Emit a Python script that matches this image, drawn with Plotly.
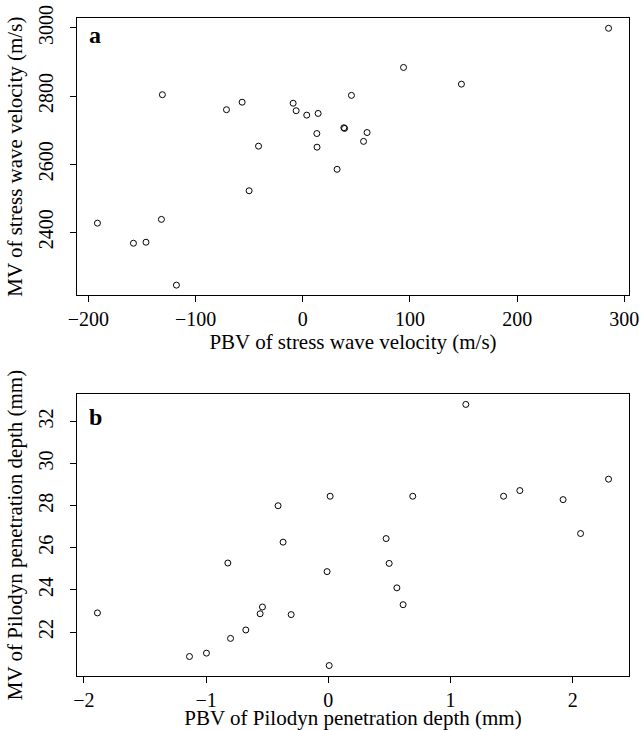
import plotly.graph_objects as go

# Panel a: stress wave velocity
pbv_swv = [-191.6, -158, -146.3, -131.9, -131, -117.9, -71.2, -56.6, -50.1, -41.3,
           -9.0, -6.2, 3.7, 13.1, 13.3, 14.3, 32, 38.3, 39, 45.4, 56.7, 60, 94, 148, 285.3]
mv_swv = [2427, 2368, 2371, 2438, 2804, 2245, 2760, 2782, 2522, 2653,
          2779, 2757, 2744, 2690, 2650, 2749, 2585, 2707, 2705, 2802, 2667, 2693, 2884, 2835, 2999]

# Panel b: Pilodyn penetration depth
pbv_pilo = [-1.889, -1.136, -0.997, -0.822, -0.800, -0.675, -0.558, -0.539, -0.411, -0.370,
            -0.304, -0.010, 0.007, 0.015, 0.473, 0.498, 0.561, 0.612, 0.691, 1.125,
            1.434, 1.567, 1.921, 2.064, 2.293]
mv_pilo = [22.91, 20.84, 21.0, 25.28, 21.70, 22.10, 22.87, 23.19, 28.0, 26.27,
           22.83, 24.87, 20.41, 28.45, 26.44, 25.26, 24.10, 23.30, 28.45, 32.81,
           28.45, 28.72, 28.29, 26.68, 29.26]

xticks_a = [-200, -100, 0, 100, 200, 300]
yticks_a = [2400, 2600, 2800, 3000]
xticks_b = [-2, -1, 0, 1, 2]
yticks_b = [22, 24, 26, 28, 30, 32]

FONT = "Liberation Serif, Times New Roman, serif"
TICK_SIZE = 20
TITLE_SIZE = 21


def rng(v):
    lo, hi = min(v), max(v)
    pad = 0.04 * (hi - lo)
    return [lo - pad, hi + pad]


marker = dict(symbol="circle-open", size=6, color="black", line=dict(width=1, color="black"))

fig = go.Figure()
fig.add_trace(go.Scatter(x=pbv_swv, y=mv_swv, mode="markers", marker=marker,
                         xaxis="x", yaxis="y", showlegend=False))
fig.add_trace(go.Scatter(x=pbv_pilo, y=mv_pilo, mode="markers", marker=marker,
                         xaxis="x2", yaxis="y2", showlegend=False))

common = dict(showline=True, mirror=True, linecolor="black", linewidth=1,
              ticks="outside", ticklen=6, tickwidth=1, tickcolor="black",
              showgrid=False, zeroline=False, automargin=False,
              tickfont=dict(family=FONT, size=TICK_SIZE, color="black"))

fig.update_layout(
    template="none",
    width=644, height=730,
    margin=dict(l=77, r=15, t=18, b=54),
    plot_bgcolor="white", paper_bgcolor="white",
    font=dict(family=FONT, color="black"),
    xaxis=dict(domain=[0, 1], anchor="y", range=rng(pbv_swv), tickvals=xticks_a,
               title=dict(text="PBV of stress wave velocity (m/s)",
                          font=dict(family=FONT, size=TITLE_SIZE), standoff=4),
               **common),
    yaxis=dict(domain=[0.5784, 1], anchor="x", range=rng(mv_swv), tickvals=yticks_a,
               tickangle=-90, ticklabelstandoff=9,
               title=dict(text="MV of stress wave velocity (m/s)",
                          font=dict(family=FONT, size=TITLE_SIZE), standoff=6),
               **common),
    xaxis2=dict(domain=[0, 1], anchor="y2", range=rng(pbv_pilo), tickvals=xticks_b,
                title=dict(text="PBV of Pilodyn penetration depth (mm)",
                           font=dict(family=FONT, size=TITLE_SIZE), standoff=4),
                **common),
    yaxis2=dict(domain=[0, 0.4286], anchor="x2", range=rng(mv_pilo), tickvals=yticks_b,
                tickangle=-90, ticklabelstandoff=9,
                title=dict(text="MV of Pilodyn penetration depth (mm)",
                           font=dict(family=FONT, size=TITLE_SIZE), standoff=6),
                **common),
    annotations=[
        dict(text="<b>a</b>", x=0.0175, y=0.94, xref="x domain", yref="y domain",
             xanchor="left", yanchor="middle", showarrow=False,
             font=dict(family=FONT, size=24, color="black")),
        dict(text="<b>b</b>", x=0.0175, y=0.917, xref="x2 domain", yref="y2 domain",
             xanchor="left", yanchor="middle", showarrow=False,
             font=dict(family=FONT, size=24, color="black")),
    ],
)

fig.write_html("out.html", post_script="document.body.style.margin='0';",
               config={"displayModeBar": False})
